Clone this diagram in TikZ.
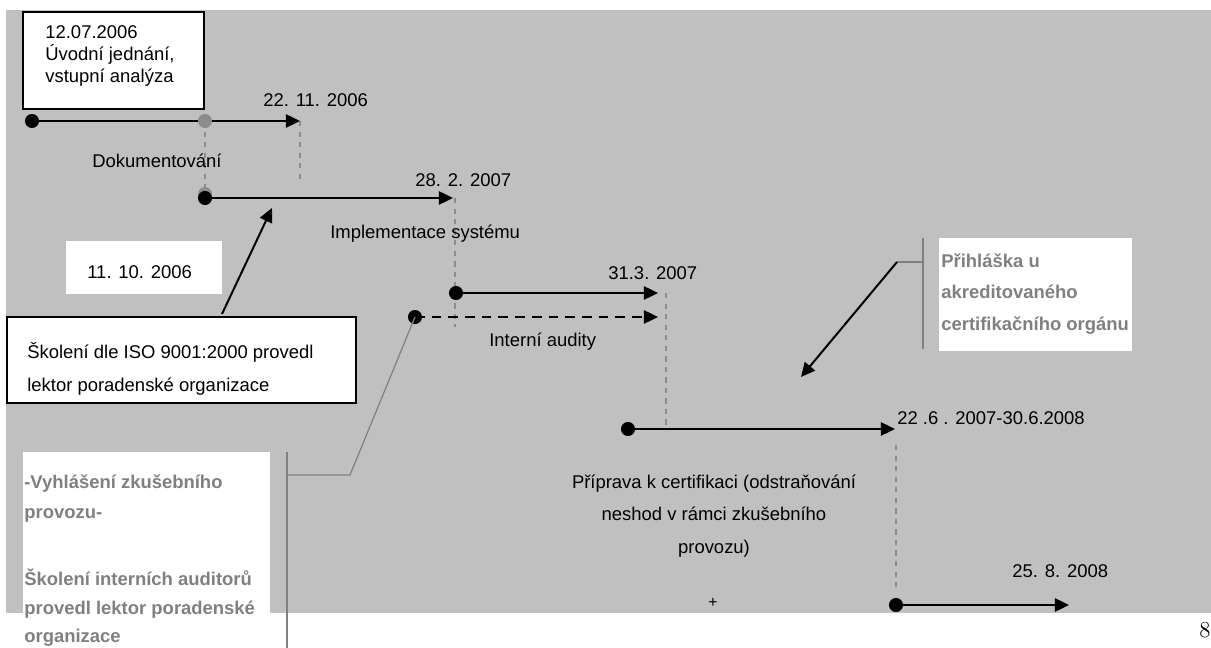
\documentclass[tikz,border=0pt]{standalone}
\usepackage{fontspec}
\setsansfont{Liberation Sans}
\usetikzlibrary{arrows.meta}
\definecolor{bg}{HTML}{C0C0C0}
\definecolor{gr}{HTML}{808080}
\definecolor{gd}{HTML}{8C8C8C}
\tikzset{
  tl/.style={line width=1.15pt,-{Triangle[length=8pt,width=7.5pt]}},
  dtl/.style={tl,dash pattern=on 5.5pt off 4pt},
  gdash/.style={gd,line width=0.8pt,dash pattern=on 3pt off 3pt},
  gline/.style={gr,line width=0.7pt},
  wbox/.style={fill=white,draw=black,line width=1.1pt},
  txt/.style={font=\sffamily\fontsize{10.5}{12.75}\selectfont,inner sep=0pt,anchor=west,align=left},
  note/.style={font=\sffamily\bfseries\fontsize{10.5}{18}\selectfont,text=gr,inner sep=0pt,anchor=west,align=left},
}

\begin{document}
\begin{tikzpicture}[x=0.02cm,y=-0.02cm]
        \useasboundingbox (0,0) rectangle (1211,648);
        \fill[bg] (6,10) rectangle (1211,613);
        % boxes
        \draw[wbox] (23,12) rectangle (204,109);
        \fill[white] (66,241) rectangle (222,294);
        \draw[wbox] (7,317) rectangle (356,403);
        \fill[white] (23,452) rectangle (270,613);
        \fill[white] (939,238) rectangle (1132,351);
        % points of the timelines
        \coordinate (a1) at (32,121);
        \coordinate (a2) at (300,121);
        \coordinate (g1) at (205,121);
        \coordinate (g2) at (205,194);
        \coordinate (b1) at (205,198);
        \coordinate (b2) at (453,198);
        \coordinate (c1) at (456,293);
        \coordinate (c2) at (658,293);
        \coordinate (d1) at (415,317);
        \coordinate (d2) at (658,317);
        \coordinate (e1) at (628,429);
        \coordinate (e2) at (895,429);
        \coordinate (f1) at (896,605);
        \coordinate (f2) at (1069,605);
        % dashed guides
        \draw[gdash] (a2) -- ++(0,61);
        \draw[gdash] (g1) -- (g2);
        \draw[gdash] (455,198) -- ++(0,129);
        \draw[gdash] (666,293) -- ++(0,132);
        \draw[gdash] (896,445) -- ++(0,145);
        % timelines
        \draw[tl] (a1) -- (a2);
        \draw[tl] (b1) -- (b2);
        \draw[tl] (c1) -- (c2);
        \draw[dtl] (d1) -- (d2);
        \draw[tl] (e1) -- (e2);
        \draw[tl] (f1) -- (f2);
        \fill[gd] (g1) circle (4pt) (g2) circle (4pt);
        \fill (a1) circle (4pt) (b1) circle (4pt) (c1) circle (4pt)
              (d1) circle (4pt) (e1) circle (4pt) (f1) circle (4pt);
        % callouts
        \coordinate (p1) at (222,314);
        \coordinate (p2) at (272,208);
        \draw[tl] (p1) -- (p2);
        \coordinate (q1) at (350,475);
        \coordinate (q2) at (287,475);
        \draw[gline] (d1) -- (q1) -- (q2);
        \draw[gline] (287,452) -- (287,648);
        \coordinate (r1) at (923,262);
        \coordinate (r2) at (897,262);
        \coordinate (r3) at (801,377);
        \draw[gline] (923,238) -- (923,349);
        \draw[gline] (r1) -- (r2);
        \draw[tl] (r2) -- (r3);
        % labels
        \node[txt] (uvod) at (45,56) {12.07.2006\\Úvodní jednání,\\vstupní analýza};
        \node[txt] (d22) at (263,100) {22. 11. 2006};
        \node[txt] (dok) at (92,161) {Dokumentování};
        \node[txt] (d28) at (415,180) {28. 2. 2007};
        \node[txt] (imp) at (330,234) {Implementace systému};
        \node[txt] (d11) at (87,272) {11. 10. 2006};
        \node[txt,font=\sffamily\fontsize{10.5}{18.7}\selectfont] (skol) at (27,368.5)
              {Školení dle ISO 9001:2000 provedl\\lektor poradenské organizace};
        \node[txt] (d31) at (608,273) {31.3. 2007};
        \node[txt] (aud) at (489,342) {Interní audity};
        \node[note] (prih) at (941,294) {Přihláška u\\akreditovaného\\certifikačního orgánu};
        \node[txt] (d226) at (897,418) {22 .6 . 2007-30.6.2008};
        \node[txt,anchor=center,align=center,font=\sffamily\fontsize{10.5}{18.7}\selectfont] (pri) at (714,516)
              {Příprava k certifikaci (odstraňování\\neshod v rámci zkušebního\\provozu)};
        \node[txt,anchor=center,font=\sffamily\fontsize{9}{9}\selectfont] (plus) at (713,603) {+};
        \node[txt] (d25) at (1012,571) {25. 8. 2008};
        \node[note,font=\sffamily\bfseries\fontsize{10.5}{17.6}\selectfont] (vyhl) at (24,498.5)
              {-Vyhlášení zkušebního\\provozu-};
        \node[note,font=\sffamily\bfseries\fontsize{10.5}{16.2}\selectfont] (ia) at (24,608)
              {Školení interních auditorů\\provedl lektor poradenské\\organizace};
        \node[font=\rmfamily\fontsize{13}{13}\selectfont,inner sep=0pt,anchor=north west] (pg) at (1199,622) {8};
\end{tikzpicture}
\end{document}
